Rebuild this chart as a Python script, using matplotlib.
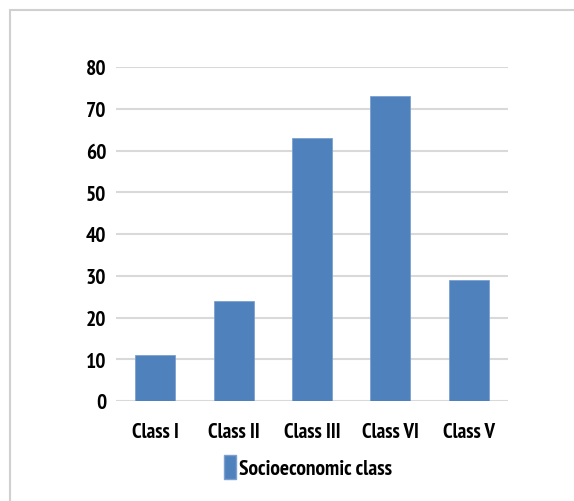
import matplotlib
matplotlib.use("Agg")
import matplotlib.pyplot as plt
from matplotlib.patches import Rectangle, Patch

categories = ["Class I", "Class II", "Class III", "Class VI", "Class V"]
values = [11, 24, 63, 73, 29]
yticks = [0, 10, 20, 30, 40, 50, 60, 70, 80]
series_name = "Socioeconomic class"

fam = ["PT Sans Narrow", "Carlito", "DejaVu Sans"]
FS = 15

W, H = 574, 502
fig = plt.figure(figsize=(W / 100, H / 100), dpi=100)
fig.patch.set_facecolor("white")

# outer frame
fig.add_artist(Rectangle((10 / W, -0.1), 1.2, 1 - 11 / H + 0.1, transform=fig.transFigure,
                         fill=False, edgecolor="#d0d0d0", linewidth=1.5))

ax = fig.add_axes([116 / W, 1 - 402 / H, (508 - 116) / W, (402 - 68) / H])
x = range(len(categories))
ax.bar(x, values, width=0.51, color="#4f81bd", edgecolor="#7ba0d0", linewidth=0.6, zorder=3)
ax.set_xlim(-0.5, len(categories) - 0.5)
ax.set_ylim(0, 80)
ax.set_yticks(yticks)
ax.set_yticklabels([str(t) for t in yticks], fontsize=FS + 0.5, fontweight="bold", family=fam)
ax.set_xticks(list(x))
ax.set_xticklabels(categories, fontsize=FS, fontweight="bold", family=fam)
ax.tick_params(axis="both", length=0, colors="black")
ax.tick_params(axis="y", pad=7)
ax.tick_params(axis="x", pad=15)
ax.grid(axis="y", color="#d9d9d9", linewidth=1.5, zorder=0)
for s in ax.spines.values():
    s.set_visible(False)

leg = fig.legend(handles=[Patch(facecolor="#4f81bd", edgecolor="#7ba0d0", label=series_name)],
                 loc="center", bbox_to_anchor=(308 / W, 1 - 468 / H), frameon=False,
                 prop={"family": fam, "weight": "bold", "size": FS + 0.5},
                 handlelength=0.55, handleheight=1.3, handletextpad=0.15)

fig.savefig("out.png", dpi=100, facecolor="white")
